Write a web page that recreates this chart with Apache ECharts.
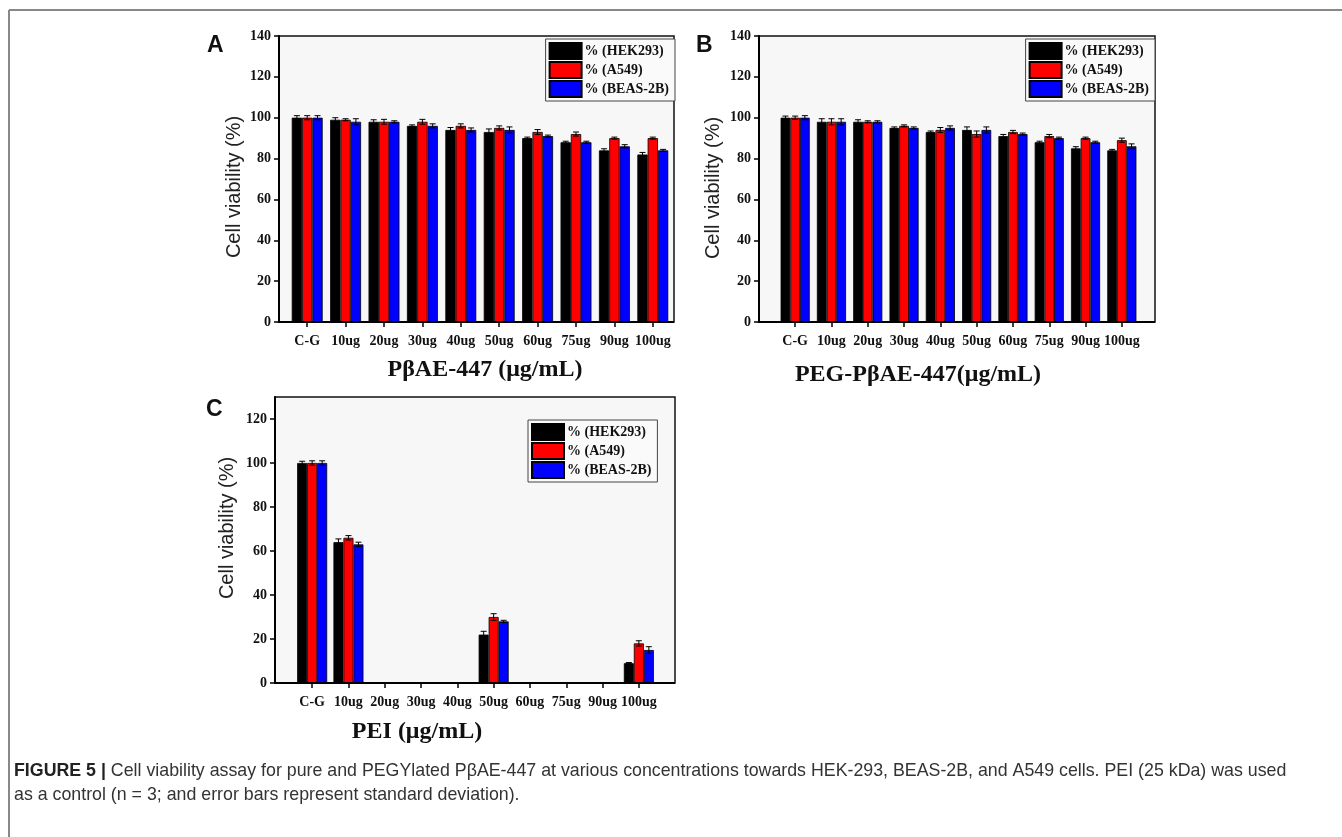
<!DOCTYPE html>
<html>
<head>
<meta charset="utf-8">
<title>Cell viability</title>
<script src="https://cdn.jsdelivr.net/npm/echarts/dist/echarts.min.js"></script>
<style>
  html, body { margin: 0; padding: 0; background: #fff; }
  #chart { width: 1342px; height: 837px; }
</style>
</head>
<body>
<div id="chart"></div>
<script>
// categories shared by the three panels
var doses = ['C-G', '10ug', '20ug', '30ug', '40ug', '50ug', '60ug', '75ug', '90ug', '100ug'];
var cellNames = ['% (HEK293)', '% (A549)', '% (BEAS-2B)'];

// panel A : PbAE-447
var aHek = [100, 99, 98, 96, 94, 93, 90, 88, 84, 82];
var aA549 = [100, 99, 98, 98, 96, 95, 93, 92, 90, 90];
var aBeas = [100, 98, 98, 96, 94, 94, 91, 88, 86, 84];
var aHekErr = [1, 1, 1, 0.5, 1.2, 1.5, 0.5, 0.5, 0.8, 1];
var aA549Err = [1, 0.5, 1.2, 1.2, 1, 1, 1.2, 1, 0.5, 0.5];
var aBeasErr = [1, 1.5, 0.5, 1, 1, 1.5, 0.5, 0.5, 0.8, 0.5];

// panel B : PEG-PbAE-447
var bHek = [100, 98, 98, 95, 93, 94, 91, 88, 85, 84];
var bA549 = [100, 98, 98, 96, 94, 92, 93, 91, 90, 89];
var bBeas = [100, 98, 98, 95, 95, 94, 92, 90, 88, 86];
var bHekErr = [0.8, 1.5, 1, 0.5, 0.5, 1.5, 0.8, 0.5, 0.8, 0.5];
var bA549Err = [0.8, 1.5, 0.5, 0.5, 1.2, 1.5, 0.8, 0.8, 0.5, 1];
var bBeasErr = [1, 1.5, 0.5, 0.5, 1, 1.5, 0.5, 0.5, 0.5, 1.2];

// panel C : PEI (no bars where nothing was measured)
var cHek = [100, 64, null, null, null, 22, null, null, null, 9];
var cA549 = [100, 66, null, null, null, 30, null, null, null, 18];
var cBeas = [100, 63, null, null, null, 28, null, null, null, 15];
var cHekErr = [0.8, 1.5, null, null, null, 1.5, null, null, null, 0.3];
var cA549Err = [1, 1, null, null, null, 1.5, null, null, null, 1.2];
var cBeasErr = [1, 1, null, null, null, 0.5, null, null, null, 1.5];

var colors = ['#000000', '#ff0000', '#0000ff'];
var serif = 'Liberation Serif';
var sans = 'Liberation Sans';

var dom = document.getElementById('chart');
var myChart = echarts.init(dom, null, { renderer: 'canvas' });

var panels = [
  { vals: [aHek, aA549, aBeas], errs: [aHekErr, aA549Err, aBeasErr], max: 140, bw: 10.3 },
  { vals: [bHek, bA549, bBeas], errs: [bHekErr, bA549Err, bBeasErr], max: 140, bw: 9.7 },
  { vals: [cHek, cA549, cBeas], errs: [cHekErr, cA549Err, cBeasErr], max: 130, bw: 10 }
];

// plot frames (box) and the inner band holding the categories
var frames = [
  { x: 279, y: 36, w: 395, h: 286 },
  { x: 759, y: 36, w: 396, h: 286 },
  { x: 275, y: 397, w: 400, h: 286 }
];
var grids = [
  { left: 288, top: 36, width: 384, height: 286 },
  { left: 777, top: 36, width: 363, height: 286 },
  { left: 294, top: 397, width: 363, height: 286 }
];
var nameGaps = [35, 36, 38];
// y title is not centred on the plot in the original
var namePads = [[0, 16, 0, 0], [0, 18, 0, 0], [0, 0, 0, 24]];

function errRender(offset) {
  return function (params, api) {
    var x = api.value(0), v = api.value(1), e = api.value(2);
    var hi = api.coord([x, v + e]);
    var lo = api.coord([x, v - e]);
    var cx = hi[0] + offset;
    var st = { stroke: '#000', lineWidth: 1 };
    return {
      type: 'group',
      children: [
        { type: 'line', shape: { x1: cx, y1: hi[1], x2: cx, y2: lo[1] }, style: st },
        { type: 'line', shape: { x1: cx - 3, y1: hi[1], x2: cx + 3, y2: hi[1] }, style: st },
        { type: 'line', shape: { x1: cx - 3, y1: lo[1], x2: cx + 3, y2: lo[1] }, style: st }
      ]
    };
  };
}

var xAxes = [], yAxes = [], series = [], frameGraphics = [];
grids.forEach(function (g, i) {
  var f = frames[i];
  frameGraphics.push({
    type: 'rect', z: 0,
    shape: { x: f.x, y: f.y, width: f.w, height: f.h },
    style: { fill: '#f7f7f7', stroke: '#111', lineWidth: 1.5 }
  });
  frameGraphics.push({
    type: 'line', z: 10,
    shape: { x1: f.x - 1, y1: f.y + f.h, x2: f.x + f.w, y2: f.y + f.h },
    style: { stroke: '#000', lineWidth: 2 }
  });
  xAxes.push({
    type: 'category',
    gridIndex: i,
    data: doses,
    axisLine: { show: false },
    axisTick: { show: true, alignWithLabel: true, length: 5, lineStyle: { color: '#000', width: 1.5 } },
    axisLabel: { interval: 0, margin: 12, color: '#111', fontFamily: serif, fontWeight: 'bold', fontSize: 14 },
    splitLine: { show: false }
  });
  yAxes.push({
    type: 'value',
    gridIndex: i,
    offset: g.left - f.x,
    min: 0,
    max: panels[i].max,
    interval: 20,
    name: 'Cell viability (%)',
    nameLocation: 'middle',
    nameGap: nameGaps[i],
    nameTextStyle: { fontFamily: sans, fontSize: 20, color: '#222', padding: namePads[i] },
    axisLine: { show: true, lineStyle: { color: '#000', width: 2 } },
    axisTick: { show: true, length: 5, lineStyle: { color: '#000', width: 1.5 } },
    axisLabel: { showMaxLabel: panels[i].max === 140, margin: 8, color: '#111', fontFamily: serif, fontWeight: 'bold', fontSize: 14 },
    splitLine: { show: false }
  });
  for (var s = 0; s < 3; s++) {
    series.push({
      name: cellNames[s],
      type: 'bar',
      xAxisIndex: i,
      yAxisIndex: i,
      barWidth: panels[i].bw,
      barGap: '0%',
      data: panels[i].vals[s],
      itemStyle: { color: colors[s], borderColor: '#000', borderWidth: 0.8 }
    });
  }
  for (var s2 = 0; s2 < 3; s2++) {
    var errData = [];
    panels[i].vals[s2].forEach(function (v, k) {
      if (v !== null) errData.push([k, v, panels[i].errs[s2][k]]);
    });
    series.push({
      name: 'err' + i + '_' + s2,
      type: 'custom',
      xAxisIndex: i,
      yAxisIndex: i,
      z: 5,
      silent: true,
      renderItem: errRender((s2 - 1) * panels[i].bw),
      data: errData
    });
  }
});

function legendAt(pos) {
  var l = {
    data: cellNames,
    orient: 'vertical',
    icon: 'rect',
    itemWidth: 32,
    itemHeight: 16,
    itemGap: 1,
    padding: [3, 6, 3, 3],
    borderColor: '#444',
    borderWidth: 1,
    backgroundColor: '#fafafa',
    textStyle: { fontFamily: serif, fontWeight: 'bold', fontSize: 14, color: '#111', padding: [0, 0, 0, -2] }
  };
  for (var k in pos) l[k] = pos[k];
  return l;
}

option = {
  backgroundColor: '#ffffff',
  animation: false,
  grid: grids,
  xAxis: xAxes,
  yAxis: yAxes,
  legend: [
    legendAt({ right: 1342 - 675, top: 39 }),
    legendAt({ right: 1342 - 1155, top: 39 }),
    legendAt({ left: 528, top: 420 })
  ],
  series: series,
  graphic: frameGraphics.concat([
    { type: 'line', shape: { x1: 9, y1: 10, x2: 1342, y2: 10 }, style: { stroke: '#888', lineWidth: 2 } },
    { type: 'line', shape: { x1: 9, y1: 10, x2: 9, y2: 837 }, style: { stroke: '#888', lineWidth: 2 } },
    { type: 'text', x: 207, y: 34, style: { text: 'A', font: 'bold 23px ' + sans, fill: '#111' } },
    { type: 'text', x: 696, y: 34, style: { text: 'B', font: 'bold 23px ' + sans, fill: '#111' } },
    { type: 'text', x: 206, y: 398, style: { text: 'C', font: 'bold 23px ' + sans, fill: '#111' } },
    { type: 'text', x: 485, y: 370, style: { text: 'PβAE-447 (μg/mL)', font: 'bold 24px ' + serif, fill: '#111', textAlign: 'center', textVerticalAlign: 'middle' } },
    { type: 'text', x: 918, y: 375, style: { text: 'PEG-PβAE-447(μg/mL)', font: 'bold 24px ' + serif, fill: '#111', textAlign: 'center', textVerticalAlign: 'middle' } },
    { type: 'text', x: 417, y: 732, style: { text: 'PEI (μg/mL)', font: 'bold 24px ' + serif, fill: '#111', textAlign: 'center', textVerticalAlign: 'middle' } },
    {
      type: 'text', x: 14, y: 771,
      style: {
        text: '{b|FIGURE 5 |} Cell viability assay for pure and PEGYlated PβAE-447 at various concentrations towards HEK-293, BEAS-2B, and A549 cells. PEI (25 kDa) was used',
        font: '17.8px ' + sans, fill: '#333', textVerticalAlign: 'middle',
        rich: { b: { fontWeight: 'bold', fontFamily: sans, fontSize: 17.8, fill: '#222' } }
      }
    },
    {
      type: 'text', x: 14, y: 795,
      style: { text: 'as a control (n = 3; and error bars represent standard deviation).', font: '17.8px ' + sans, fill: '#333', textVerticalAlign: 'middle' }
    }
  ])
};

if (option && typeof option === 'object') {
  myChart.setOption(option, true);
}
</script>
</body>
</html>
